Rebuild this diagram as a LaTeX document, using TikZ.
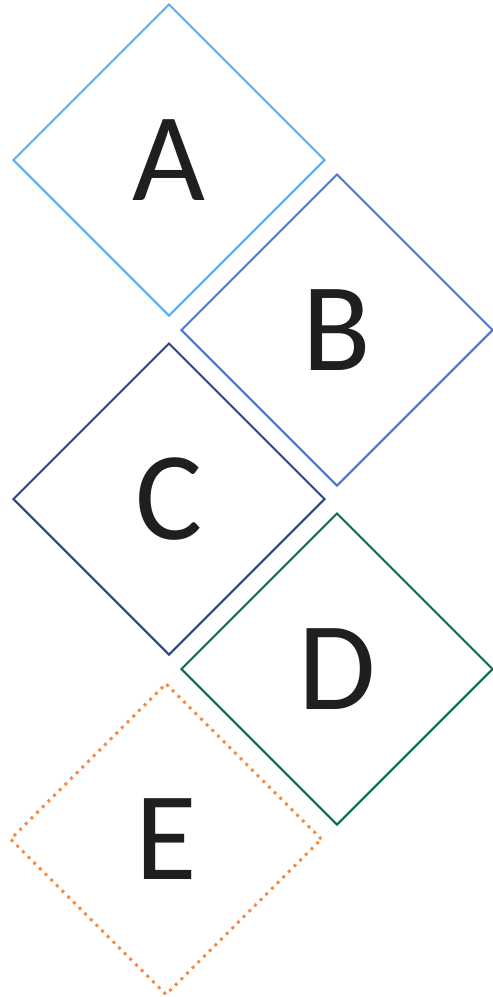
\documentclass[tikz,border=0pt]{standalone}
\usepackage{fontspec}
\setmainfont{Carlito}
\usetikzlibrary{shapes.geometric}

\definecolor{lightblue}{HTML}{5AAEF4}
\definecolor{midblue}{HTML}{4A76CF}
\definecolor{navy}{HTML}{2B4482}
\definecolor{darkgreen}{HTML}{0B6B52}
\definecolor{orange}{HTML}{F68B45}
\definecolor{letter}{HTML}{1F1F1F}

\tikzset{
    box/.style={diamond, aspect=1, minimum width=312pt, minimum height=312pt,
        inner sep=0pt, line width=2pt, text=letter,
        font=\fontsize{126}{126}\selectfont},
}

\begin{document}
\begin{tikzpicture}[x=1pt,y=-1pt]
        \useasboundingbox (0,0) rectangle (493,997);
        \node[box, draw=lightblue] (A) at (169,160) {A};
        \node[box, draw=midblue] (B) at (337,330) {B};
        \node[box, draw=navy] (C) at (169,499) {C};
        \node[box, draw=darkgreen] (D) at (337,669) {D};
        % E is the dotted one
        \node[box, draw=orange, line width=3pt, dash pattern=on 3pt off 5pt] (E) at (166,839) {E};
    \end{tikzpicture}
\end{document}
